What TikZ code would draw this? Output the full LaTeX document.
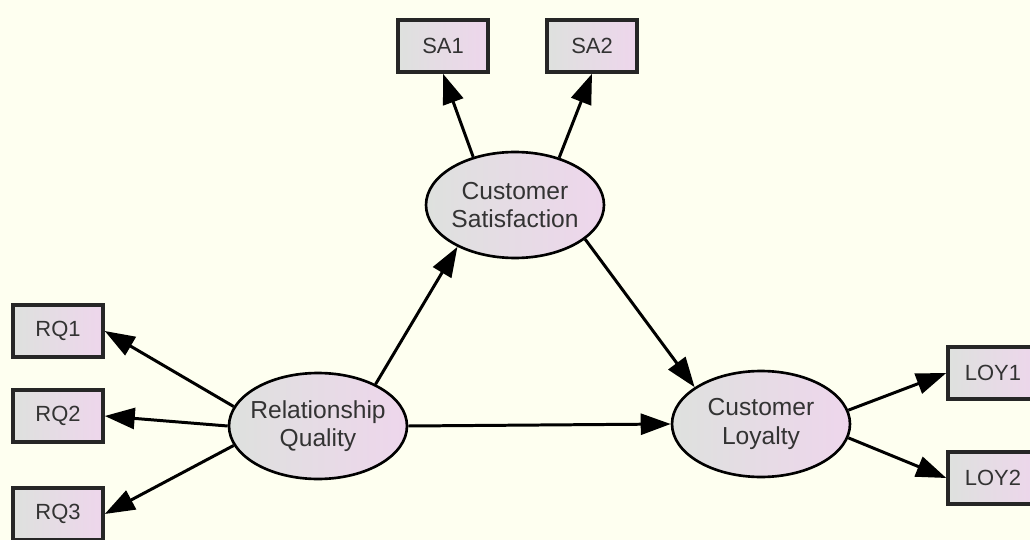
\documentclass[tikz,border=0pt]{standalone}
\usepackage{fontspec}
\setmainfont{Liberation Sans}
\usetikzlibrary{arrows.meta,shapes.geometric}
\definecolor{paper}{RGB}{254,255,240}
\definecolor{fillgray}{RGB}{222,225,222}
\definecolor{fillpink}{RGB}{238,214,236}

\begin{document}
\begin{tikzpicture}[x=0.02cm, y=-0.02cm,
        obs/.style={draw=black!85, line width=2pt, left color=fillgray, right color=fillpink,
            minimum width=1.8cm, minimum height=1.04cm, inner sep=0pt,
            font=\fontsize{12.5}{14}\selectfont, text=black!80},
        latent/.style={ellipse, draw=black, line width=1.5pt, left color=fillgray, right color=fillpink,
            minimum width=3.56cm, minimum height=2.12cm, inner xsep=-3pt, inner ysep=0pt, align=center,
            font=\fontsize{14}{16}\selectfont, text=black!80},
        link/.style={line width=1.7pt, -{Triangle[length=0.6cm,width=0.42cm]}}]
        % Background
        \clip (0,0) rectangle (1030,540);
        \fill[paper] (0,0) rectangle (1030,540);

        % Latent variables
        \node[latent] (cs) at (515,205) {Customer\\Satisfaction};
        \node[latent] (rq) at (318,426) {Relationship\\Quality};
        \node[latent] (cl) at (761,424) {Customer\\Loyalty};

        % Indicators
        \node[obs] (sa1) at (443,46) {SA1};
        \node[obs] (sa2) at (592,46) {SA2};
        \node[obs] (rq1) at (58,331) {RQ1};
        \node[obs] (rq2) at (58,416) {RQ2};
        \node[obs] (rq3) at (58,514) {RQ3};
        \node[obs] (loy1) at (993,373) {LOY1};
        \node[obs] (loy2) at (993,478) {LOY2};

        % Structural paths
        \draw[link] (rq.36) -- (cs.216);
        \draw[link] (cs.334) -- (cl.151);
        \draw[link] (rq.east) -- (cl.west);

        % Measurement paths
        \draw[link] (cs.131) -- (sa1.south);
        \draw[link] (cs.47) -- (sa2.south);
        \draw[link] (rq.167) -- (rq1.east);
        \draw[link] (rq.west) -- (rq2.east);
        \draw[link] (rq.193) -- (rq3.east);
        \draw[link] (cl.9) -- (loy1.west);
        \draw[link] (cl.-9) -- (loy2.west);
    \end{tikzpicture}
\end{document}
